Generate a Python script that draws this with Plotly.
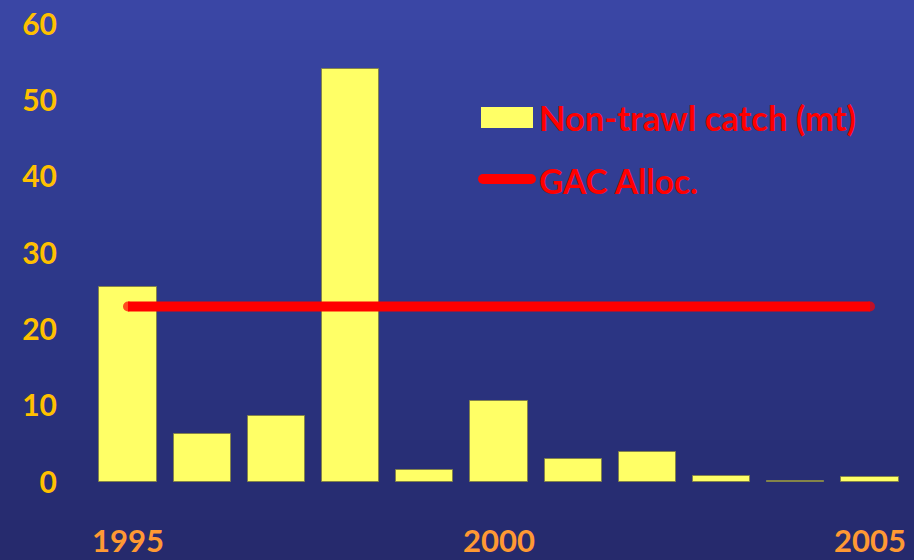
import numpy as np
import plotly.graph_objs as go

# data
years = [1995, 1996, 1997, 1998, 1999, 2000, 2001, 2002, 2003, 2004, 2005]
catch_mt = [25.5, 6.3, 8.6, 54.1, 1.6, 10.6, 3.0, 3.9, 0.8, 0.1, 0.7]
gac_alloc = [23.0] * len(years)
y_ticks = [0, 10, 20, 30, 40, 50, 60]
x_ticks = [1995, 2000, 2005]

W, H = 914, 560
L, R, T, B = 70, 14, 10, 40   # margins (px)
pw, ph = W - L - R, H - T - B


def px_x(p):
    return (p - L) / pw


def px_y(p):
    return (H - B - p) / ph


fig = go.Figure()

fig.add_trace(go.Bar(
    x=years,
    y=catch_mt,
    width=0.77,
    marker=dict(color="#FFFF66", line=dict(color="rgba(130,130,70,0.9)", width=1)),
    showlegend=False,
    hoverinfo='x+y'
))

sizes = [10] + [0] * (len(years) - 2) + [10]
fig.add_trace(go.Scatter(
    x=years,
    y=gac_alloc,
    mode='lines+markers',
    line=dict(color="#FF0000", width=10),
    marker=dict(size=sizes, color="#FF0000", line=dict(width=0)),
    showlegend=False,
    hoverinfo='x+y'
))

# background: blue gradient drawn as thin stripes
shapes = []
n = 56
top = np.array([0x3B, 0x47, 0xA6])
mid = np.array([0x2D, 0x38, 0x89])
bot = np.array([0x26, 0x2A, 0x6C])
for i in range(n):
    f = (i + 0.5) / n
    if f < 0.5:
        c = top + (mid - top) * f / 0.5
    else:
        c = mid + (bot - mid) * (f - 0.5) / 0.5
    c = c.astype(int)
    p0, p1 = i * H / n, (i + 1) * H / n + 0.5
    shapes.append(dict(
        type='rect', xref='paper', yref='paper', layer='below',
        x0=px_x(0), x1=px_x(W), y0=px_y(p1), y1=px_y(p0),
        line=dict(width=0), fillcolor='rgb(%d,%d,%d)' % tuple(c)
    ))

# custom legend
shapes.append(dict(
    type='rect', xref='paper', yref='paper',
    x0=px_x(481), x1=px_x(533), y0=px_y(128), y1=px_y(107),
    line=dict(width=0), fillcolor="#FFFF66"
))
shapes.append(dict(
    type='line', xref='paper', yref='paper',
    x0=px_x(483), x1=px_x(531), y0=px_y(179), y1=px_y(179),
    line=dict(color="#FF0000", width=10)
))
for cx in (483, 531):
    shapes.append(dict(
        type='circle', xref='paper', yref='paper',
        x0=px_x(cx - 5), x1=px_x(cx + 5), y0=px_y(184), y1=px_y(174),
        line=dict(width=0), fillcolor="#FF0000"
    ))

annotations = [
    dict(xref='paper', yref='paper', x=px_x(537), y=px_y(117),
         xanchor='left', yanchor='middle', showarrow=False,
         text="<b>Non-trawl catch (mt)</b>",
         font=dict(family="Lato", size=34.5, color="#FF0000")),
    dict(xref='paper', yref='paper', x=px_x(537), y=px_y(181),
         xanchor='left', yanchor='middle', showarrow=False,
         text="<b>GAC Alloc.</b>",
         font=dict(family="Lato", size=33.5, color="#FF0000")),
]

# axis ranges so that 1995 sits at px 128, 2005 at px 870, y=0 at px 482, y=60 at px 24
xs = (870 - 128) / 10.0
ys = (482 - 24) / 60.0
x_rng = [1995 + (L - 128) / xs, 1995 + (W - R - 128) / xs]
y_rng = [(482 - (H - B)) / ys, (482 - T) / ys]

fig.update_layout(
    width=W, height=H,
    margin=dict(l=L, r=R, t=T, b=B),
    paper_bgcolor="#2D3889",
    plot_bgcolor="rgba(0,0,0,0)",
    shapes=shapes,
    annotations=annotations,
    bargap=0,
    xaxis=dict(
        range=x_rng, tickvals=x_ticks, ticktext=[str(t) for t in x_ticks],
        showgrid=False, zeroline=False, showline=False, automargin=False,
        tickfont=dict(family="Lato", size=31, color="#FF9933", weight="bold"),
        ticklabelstandoff=0
    ),
    yaxis=dict(
        range=y_rng, tickvals=y_ticks,
        showgrid=False, zeroline=False, showline=False, automargin=False,
        tickfont=dict(family="Lato", size=30, color="#FFC000", weight="bold"),
        ticklabelstandoff=12
    ),
)

fig.write_html(
    "out.html",
    config={"responsive": False, "displayModeBar": False},
    post_script="document.body.style.margin='0';document.body.style.overflow='hidden';",
)
